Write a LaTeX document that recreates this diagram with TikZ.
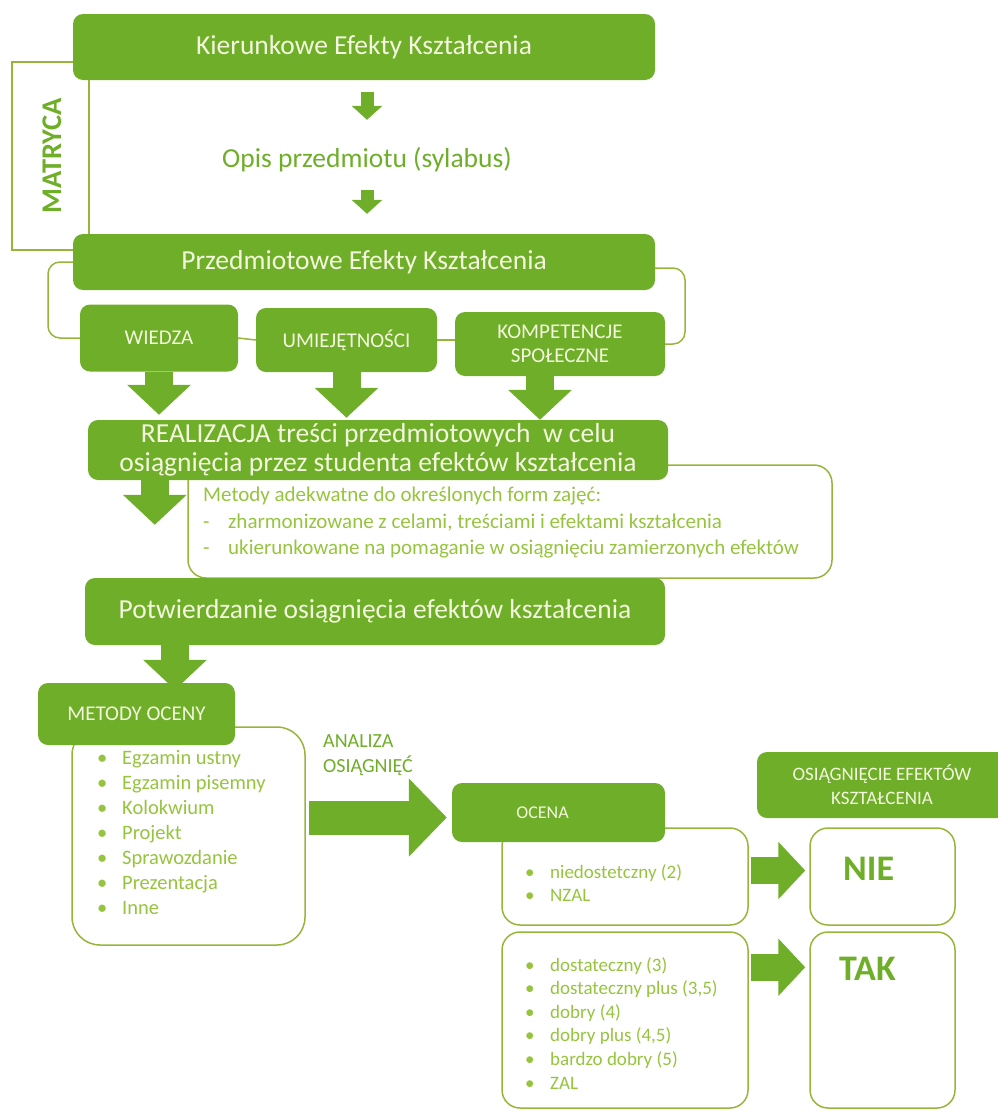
\documentclass[tikz,border=0pt]{standalone}
\usepackage{fontspec}
\setmainfont{Carlito}
\usetikzlibrary{arrows.meta, positioning, calc}

\definecolor{leafgreen}{RGB}{110,174,40}
\definecolor{paletext}{RGB}{244,247,222}
\definecolor{listgreen}{RGB}{150,196,62}
\definecolor{rimgreen}{RGB}{150,182,58}

\newcommand{\blt}{\makebox[25pt][l]{\textbullet}}
\newcommand{\dsh}{\makebox[25pt][l]{-}}

\begin{document}
\begin{tikzpicture}[
    x=1pt, y=-1pt,
    greenbox/.style={rectangle, rounded corners=10pt, fill=leafgreen, text=paletext, align=center, inner sep=0pt},
    rimbox/.style={rectangle, rounded corners=18pt, draw=rimgreen, line width=1.5pt, inner sep=0pt},
    rim/.style={draw=rimgreen, line width=1.5pt, rounded corners=12pt},
    headfont/.style={font=\fontsize{27.5}{32}\selectfont},
    bigfont/.style={font=\fontsize{27.5}{28.5}\selectfont},
    capsfont/.style={font=\fontsize{21}{24}\selectfont},
    listtext/.style={text=listgreen, align=left, anchor=north west, inner sep=0pt, font=\fontsize{19}{24}\selectfont},
    thinarrow/.style={draw=leafgreen, line width=13pt, -{Triangle[width=30pt,length=14pt]}},
    fatarrow/.style={draw=leafgreen, line width=28pt, -{Triangle[width=62pt,length=30pt]}},
    sidearrow/.style={draw=leafgreen, line width=34pt, -{Triangle[width=76pt,length=38pt]}},
    smallside/.style={draw=leafgreen, line width=27pt, -{Triangle[width=56pt,length=27pt]}}
]
\useasboundingbox (0,0) rectangle (997,1111);

% outlined boxes (under the green ones)
\node[rimbox, minimum width=644pt, minimum height=113pt] (metody) at (510,521.5) {};
\node[rimbox, rounded corners=28pt, minimum width=233pt, minimum height=218pt] (formy) at (188.5,836) {};
\node[rimbox, minimum width=246pt, minimum height=97pt] (negatywne) at (625,876.5) {};
\node[rimbox, minimum width=246pt, minimum height=176pt] (pozytywne) at (625,1020) {};
\node[rimbox, minimum width=145pt, minimum height=97pt] (nie) at (882.5,876.5) {};
\node[rimbox, minimum width=145pt, minimum height=176pt] (tak) at (882.5,1020) {};

% green boxes
\node[greenbox, headfont, minimum width=582pt, minimum height=66pt] (kier) at (364,47) {Kierunkowe Efekty Kształcenia};
\node[text=leafgreen, headfont, minimum height=60pt] (opis) at (367,160) {Opis przedmiotu (sylabus)};
\node[greenbox, headfont, minimum width=582pt, minimum height=56pt] (przedm) at (364,262) {Przedmiotowe Efekty Kształcenia};
\node[greenbox, capsfont, minimum width=158pt, minimum height=67pt] (wiedza) at (159,338) {WIEDZA};
\node[greenbox, capsfont, minimum width=181pt, minimum height=64pt] (umiej) at (346.5,340) {UMIEJĘTNOŚCI};
\node[greenbox, capsfont, minimum width=210pt, minimum height=64pt] (kompet) at (560,344) {KOMPETENCJE\\SPOŁECZNE};
\node[greenbox, bigfont, minimum width=580pt, minimum height=60pt] (realiz) at (378,450) {REALIZACJA treści przedmiotowych \ w celu\\osiągnięcia przez studenta efektów kształcenia};
\node[greenbox, bigfont, minimum width=580pt, minimum height=67pt] (potw) at (375,611.5) {Potwierdzanie osiągnięcia efektów kształcenia};
\node[greenbox, capsfont, minimum width=197pt, minimum height=62pt] (ocenametody) at (136.5,714) {METODY OCENY};
\node[greenbox, font=\fontsize{18}{22}\selectfont, minimum width=213pt, minimum height=59pt] (ocena) at (558.5,812.5) {OCENA\hspace{32pt}};
\node[greenbox, font=\fontsize{19}{24}\selectfont, minimum width=250pt, minimum height=66pt] (osiag) at (882,785) {OSIĄGNIĘCIE EFEKTÓW\\KSZTAŁCENIA};

% side texts
\node[rotate=90, text=leafgreen, font=\bfseries\fontsize{28.5}{32}\selectfont] (matryca) at (52,156) {MATRYCA};
\node[text=leafgreen, align=left, anchor=north west, inner sep=0pt, font=\fontsize{20}{25}\selectfont] (analiza) at (323,734) {ANALIZA\\OSIĄGNIĘĆ};
\node[text=leafgreen, anchor=west, inner sep=0pt, font=\bfseries\fontsize{36}{40}\selectfont] (nietxt) at (843,869) {NIE};
\node[text=leafgreen, anchor=west, inner sep=0pt, font=\bfseries\fontsize{36}{40}\selectfont] (taktxt) at (839,969) {TAK};

% lists
\node[listtext, font=\fontsize{21}{26.5}\selectfont] (metodytxt) at (203,487) {Metody adekwatne do określonych form zajęć:\\
    \dsh zharmonizowane z celami, treściami i efektami kształcenia\\
    \dsh ukierunkowane na pomaganie w osiągnięciu zamierzonych efektów};
\node[listtext, font=\fontsize{20.5}{25}\selectfont] (formytxt) at (97,750) {\blt Egzamin ustny\\ \blt Egzamin pisemny\\ \blt Kolokwium\\
    \blt Projekt\\ \blt Sprawozdanie\\ \blt Prezentacja\\ \blt Inne};
\node[listtext, font=\fontsize{19}{23.5}\selectfont] (negtxt) at (525,864) {\blt niedostetczny (2)\\ \blt NZAL};
\node[listtext, font=\fontsize{19}{23.6}\selectfont] (poztxt) at (525,957) {\blt dostateczny (3)\\ \blt dostateczny plus (3,5)\\
    \blt dobry (4)\\ \blt dobry plus (4,5)\\ \blt bardzo dobry (5)\\ \blt ZAL};

% brackets
\draw[rim, rounded corners=0pt] (kier.west |- 0,62) -- (12,62) -- (12,250) -- (przedm.west |- 0,250);
\draw[rim] (89,0 |- kier.south) -- (89,0 |- przedm.north);
\draw[rim] (przedm.west) -| (48,338) -- (wiedza.west);
\draw[rim] ([yshift=-6pt]przedm.east) -| (685,344) -- (kompet.east);
\draw[rim] (wiedza.east) -- (umiej.west);
\draw[rim] (umiej.east) -- (umiej.east -| kompet.west);

% arrows
\draw[thinarrow, shorten <=12pt, shorten >=10pt] (opis.north |- kier.south) -- (opis.north);
\draw[thinarrow, shorten >=20pt] (opis.south) -- (opis.south |- przedm.north);
\draw[fatarrow, shorten >=5pt] (wiedza.south) -- (wiedza.south |- realiz.north);
\draw[fatarrow, shorten >=2pt] (umiej.south) -- (umiej.south |- realiz.north);
\draw[fatarrow, shorten >=0pt] ($(kompet.south)+(-20,0)$) -- ($(kompet.south |- realiz.north)+(-20,0)$);
\draw[fatarrow, shorten >=53pt] ($(realiz.south west)+(67,0)$) -- ($(realiz.south west |- potw.north)+(67,0)$);
\draw[fatarrow, shorten >=-7pt] ($(ocenametody.north |- potw.south)+(38.5,0)$) -- ($(ocenametody.north)+(38.5,0)$);
\draw[sidearrow] ($(formy.east |- ocena.west)+(3,5)$) -- ($(ocena.west)+(-5,5)$);
\draw[smallside] ($(negatywne.east)+(2,-6)$) -- ($(nie.west)+(-4,-6)$);
\draw[smallside] ($(pozytywne.north east)+(2,36)$) -- ($(tak.north west)+(-4,36)$);

\end{tikzpicture}
\end{document}
